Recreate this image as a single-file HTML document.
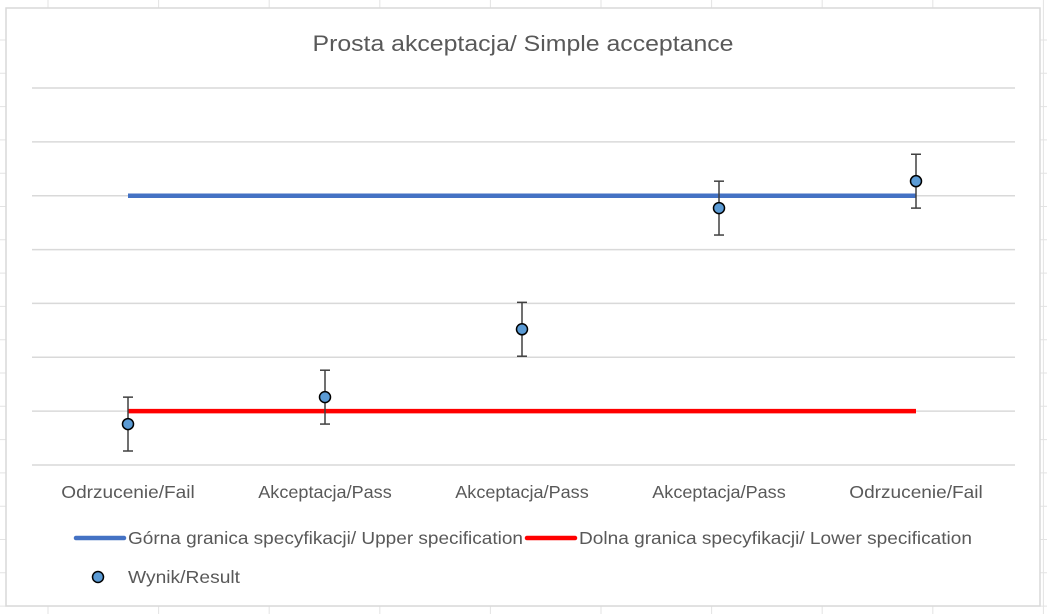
<!DOCTYPE html>
<html><head><meta charset="utf-8"><style>
html,body{margin:0;padding:0;background:#fff;}
svg{display:block;font-family:"Liberation Sans",Calibri,sans-serif;}
</style></head><body>
<svg id="c" width="1047" height="614">
  <g id="sheet"></g>
  <rect x="6" y="8" width="1034" height="598" fill="#fff" stroke="#d9d9d9" stroke-width="1.5"/>
  <text x="523" y="51" text-anchor="middle" font-size="22" fill="#595959" textLength="421" lengthAdjust="spacingAndGlyphs">Prosta akceptacja/ Simple acceptance</text>
  <g id="grid"></g>
  <g id="xlabels"></g>
  <g id="spec"></g>
  <g id="pts"></g>
  <g>
    <line x1="76" y1="538" x2="124" y2="538" stroke="#4472c4" stroke-width="4.5" stroke-linecap="round"/>
    <text x="128" y="544" font-size="17.5" fill="#595959" textLength="395" lengthAdjust="spacingAndGlyphs">Górna granica specyfikacji/ Upper specification</text>
    <line x1="527" y1="538" x2="575" y2="538" stroke="#ff0000" stroke-width="4.5" stroke-linecap="round"/>
    <text x="579" y="544" font-size="17.5" fill="#595959" textLength="393" lengthAdjust="spacingAndGlyphs">Dolna granica specyfikacji/ Lower specification</text>
    <circle cx="98" cy="577" r="5.5" fill="#5b9bd5" stroke="#000" stroke-width="1.5"/>
    <text x="128" y="583" font-size="17.5" fill="#595959" textLength="112" lengthAdjust="spacingAndGlyphs">Wynik/Result</text>
  </g>
</svg>
<script>
const categories=["Odrzucenie/Fail","Akceptacja/Pass","Akceptacja/Pass","Akceptacja/Pass","Odrzucenie/Fail"];
const results=[0.76,1.26,2.52,4.77,5.27];
const errors=[0.5,0.5,0.5,0.5,0.5];
const upperSpec=[5,5,5,5,5];
const lowerSpec=[1,1,1,1,1];
const yTicks=[0,1,2,3,4,5,6,7];
const NS="http://www.w3.org/2000/svg";
const X0=29.5,X1=1014.5,Y0=465,Y7=88,YMAX=7;
const xs=i=>X0+(X1-X0)*(i+0.5)/categories.length;
const ys=v=>Y0-(Y0-Y7)*v/YMAX;
function mk(tag,attrs,parent){const e=document.createElementNS(NS,tag);for(const k in attrs)e.setAttribute(k,attrs[k]);parent.appendChild(e);return e;}
const sheet=document.getElementById('sheet');
for(let x=48;x<1047;x+=110.6){
  const l=mk('line',{x1:x,y1:0,x2:x,y2:614,stroke:'#e3e3e3','stroke-width':1},sheet);
  
  
}
for(let y=40;y<614;y+=33.3){
  const l=mk('line',{x1:0,y1:y,x2:1047,y2:y,stroke:'#e3e3e3','stroke-width':1},sheet);
  
  
}
const grid=document.getElementById('grid');
yTicks.forEach(t=>{
  const l=mk('line',{x1:32,y1:ys(t),x2:1015,y2:ys(t),stroke:'#d9d9d9','stroke-width':1.5},grid);
  
  
});
const xl=document.getElementById('xlabels');
categories.forEach((c,i)=>{
  const t=mk('text',{x:xs(i),y:498,'text-anchor':'middle','font-size':17.5,fill:'#595959',textLength:c.length*8.9,lengthAdjust:'spacingAndGlyphs'},xl);
  t.textContent=c;
  
  
});
const spec=document.getElementById('spec');
function specLine(arr,color,name){
  let d='';arr.forEach((v,i)=>{d+=(i?'L':'M')+xs(i)+' '+ys(v);});
  const p=mk('path',{d:d,fill:'none',stroke:color,'stroke-width':4.5},spec);
  
  
}
specLine(upperSpec,'#4472c4','upper-spec-line');
specLine(lowerSpec,'#ff0000','lower-spec-line');
const pts=document.getElementById('pts');
results.forEach((v,i)=>{
  const x=xs(i),yt=ys(v+errors[i]),yb=ys(v-errors[i]);
  const g=mk('g',{},pts);
  
  
  mk('line',{x1:x,y1:yt,x2:x,y2:yb,stroke:'#404040','stroke-width':1.5},g);
  mk('line',{x1:x-5,y1:yt,x2:x+5,y2:yt,stroke:'#404040','stroke-width':1.5},g);
  mk('line',{x1:x-5,y1:yb,x2:x+5,y2:yb,stroke:'#404040','stroke-width':1.5},g);
  const c=mk('circle',{cx:x,cy:ys(v),r:5.5,fill:'#5b9bd5',stroke:'#000','stroke-width':1.5},pts);
  
  
});
</script>
</body></html>
